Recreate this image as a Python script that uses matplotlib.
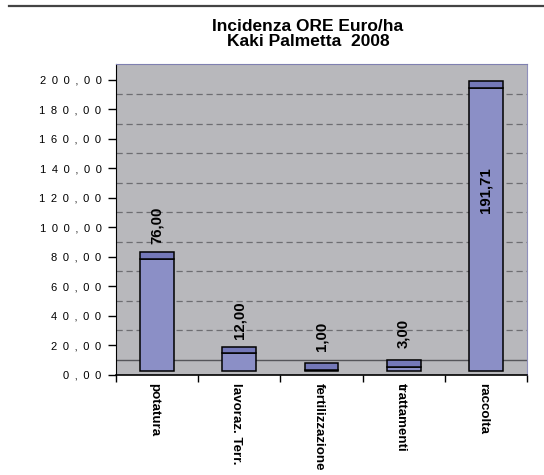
import matplotlib
matplotlib.use("Agg")
import matplotlib.pyplot as plt
import numpy as np
from matplotlib.lines import Line2D
from matplotlib.ticker import FixedLocator, FuncFormatter

plt.rcParams["font.family"] = ["Liberation Sans", "DejaVu Sans"]

title = "Incidenza ORE Euro/ha\nKaki Palmetta  2008"
categories = ["potatura", "lavoraz. Terr.", "fertilizzazione", "trattamenti", "raccolta"]
values = [76.00, 12.00, 1.00, 3.00, 191.71]
y_ticks = [0, 20, 40, 60, 80, 100, 120, 140, 160, 180, 200]

# fake 3D look of the original spreadsheet chart
base = 2.7        # bars start slightly above the axis line
depth = 4.6       # visible top face of each bar
back = 10.2       # back wall is shifted up by this amount

front_color = "#8b8fc6"
top_color = "#7478b8"
wall_color = "#b8b8bc"


def tick_text(v, pos):
    # the original labels are widely letter-spaced
    return "\u2002".join(f"{v:.2f}".replace(".", ","))


fig = plt.figure(figsize=(5.44, 4.75), dpi=100)
ax = fig.add_axes([116 / 544, 1 - 375 / 475, 411 / 544, 311 / 475])
ax.set_facecolor(wall_color)

x = np.arange(len(categories))
ax.set_xlim(-0.5, len(categories) - 0.5)
ax.set_ylim(0, 210.8)

for t in y_ticks[1:-1]:
    ax.axhline(t + back, color="#6e6e72", lw=0.9, ls=(0, (5, 3)), zorder=1)
ax.axhline(back, color="#55555a", lw=1.0, zorder=1)

ax.bar(x, values, width=0.41, bottom=base, color=front_color,
       edgecolor="black", linewidth=1.1, zorder=3)
ax.bar(x, depth, width=0.41, bottom=np.array(values) + base, color=top_color,
       edgecolor="black", linewidth=1.1, zorder=3)

for i, v in enumerate(values):
    label = f"{v:.2f}".replace(".", ",")
    top = base + v + depth
    if top + 40 > ax.get_ylim()[1]:
        y = base + v * 0.64
    else:
        y = top + 18
    ax.text(i, y, label, rotation=90, ha="center", va="center",
            fontsize=10.8, fontweight="bold", zorder=4)

ax.yaxis.set_major_locator(FixedLocator(y_ticks))
ax.yaxis.set_major_formatter(FuncFormatter(tick_text))
ax.tick_params(axis="y", direction="out", length=5.5, width=1, pad=5,
               labelsize=8, colors="black")

ax.set_xticks(np.arange(-0.5, len(categories), 1))
ax.set_xticklabels([])
ax.tick_params(axis="x", direction="out", length=5, width=1)

for i, cat in enumerate(categories):
    ax.annotate(cat, xy=(i, 0), xycoords=("data", "axes fraction"),
                xytext=(-3, -8), textcoords="offset pixels",
                rotation=-90, ha="center", va="top",
                fontsize=9.6, fontweight="bold", annotation_clip=False)

ax.spines["left"].set_color("black")
ax.spines["bottom"].set_color("black")
ax.spines["bottom"].set_linewidth(1.2)
ax.spines["top"].set_color("#7f80b0")
ax.spines["right"].set_color("#8f90bc")

fig.text(308 / 544, 1 - 34 / 475, title, ha="center", va="center",
         fontsize=12.5, fontweight="bold", linespacing=1.05)

fig.add_artist(Line2D([9 / 544, 1], [1 - 6 / 475, 1 - 6 / 475],
                      color="#444444", lw=1.6))

fig.savefig("out.png", dpi=100)
